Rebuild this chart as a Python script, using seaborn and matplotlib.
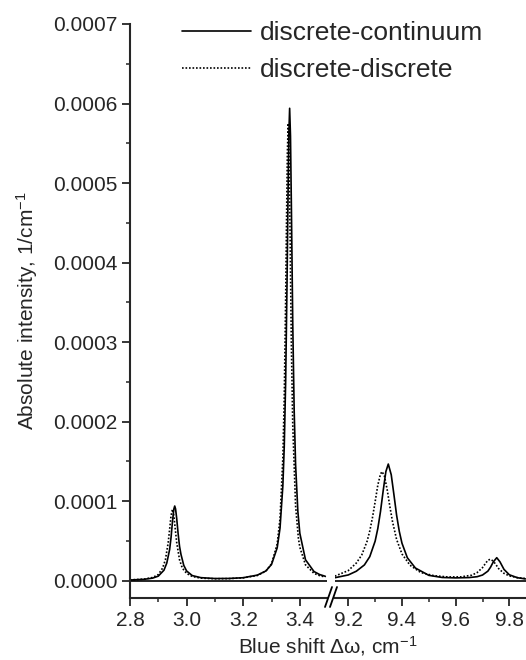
import numpy as np
import pandas as pd
import matplotlib
matplotlib.use('Agg')
import matplotlib.pyplot as plt
import seaborn as sns
from matplotlib.ticker import MultipleLocator, FormatStrFormatter
from matplotlib.lines import Line2D

# intensities in units of 1e-5 1/cm
SCALE = 1e-5

left_x_cont = [2.80, 2.85, 2.88, 2.90, 2.92, 2.93, 2.94, 2.945, 2.95, 2.955, 2.958, 2.961,
               2.965, 2.97, 2.975, 2.98, 2.99, 3.00, 3.02, 3.05, 3.10, 3.15, 3.20, 3.25,
               3.28, 3.30, 3.32, 3.33, 3.34, 3.345, 3.35, 3.355, 3.358, 3.361, 3.364, 3.367,
               3.370, 3.375, 3.380, 3.385, 3.393, 3.40, 3.42, 3.45, 3.47, 3.49]
left_y_cont = [0.06, 0.15, 0.30, 0.55, 1.30, 2.20, 3.90, 5.40, 7.40, 9.00, 9.37, 9.00,
               7.80, 5.90, 4.30, 3.30, 1.90, 1.20, 0.62, 0.36, 0.25, 0.26, 0.35, 0.68,
               1.20, 2.02, 4.11, 6.58, 11.9, 16.9, 25.2, 38.0, 47.5, 55.9, 59.4, 55.9,
               47.5, 32.3, 21.4, 14.6, 8.70, 5.94, 2.61, 1.13, 0.75, 0.53]

left_x_disc = [2.80, 2.85, 2.88, 2.90, 2.915, 2.925, 2.935, 2.94, 2.945, 2.95, 2.955, 2.96,
               2.965, 2.975, 2.985, 3.00, 3.02, 3.05, 3.10, 3.15, 3.20, 3.25, 3.28, 3.30,
               3.32, 3.33, 3.34, 3.345, 3.35, 3.353, 3.356, 3.359, 3.362, 3.365, 3.37, 3.375,
               3.385, 3.395, 3.40, 3.42, 3.45, 3.47, 3.49]
left_y_disc = [0.08, 0.18, 0.38, 0.75, 1.55, 2.60, 4.77, 6.44, 8.16, 8.96, 8.16, 6.44,
               4.77, 2.60, 1.55, 0.89, 0.51, 0.30, 0.22, 0.24, 0.34, 0.63, 1.19, 2.10,
               4.59, 7.80, 15.4, 23.1, 35.6, 45.2, 53.8, 57.5, 53.8, 45.2, 30.0, 19.6,
               9.40, 5.30, 4.19, 1.97, 0.90, 0.61, 0.44]

right_x_cont = [9.15, 9.20, 9.23, 9.26, 9.28, 9.30, 9.31, 9.32, 9.33, 9.34, 9.349, 9.36,
                9.37, 9.38, 9.39, 9.40, 9.42, 9.45, 9.50, 9.55, 9.60, 9.65, 9.68, 9.70,
                9.72, 9.73, 9.74, 9.753, 9.765, 9.78, 9.80, 9.83, 9.86]
right_y_cont = [0.35, 0.70, 1.17, 1.96, 3.00, 4.95, 6.54, 8.69, 11.3, 13.7, 14.65, 13.3,
                10.8, 8.21, 6.18, 4.69, 2.86, 1.57, 0.65, 0.38, 0.33, 0.37, 0.48, 0.69,
                1.18, 1.68, 2.33, 2.87, 2.35, 1.40, 0.72, 0.35, 0.20]

right_x_disc = [9.15, 9.20, 9.23, 9.25, 9.27, 9.28, 9.29, 9.30, 9.31, 9.32, 9.326, 9.335,
                9.345, 9.355, 9.365, 9.38, 9.40, 9.43, 9.47, 9.52, 9.57, 9.62, 9.66, 9.68,
                9.70, 9.71, 9.72, 9.729, 9.74, 9.75, 9.76, 9.78, 9.80, 9.83, 9.86]
right_y_disc = [0.55, 1.25, 2.20, 3.20, 4.93, 6.23, 7.90, 9.90, 12.0, 13.4, 13.7, 13.1,
                11.4, 9.28, 7.36, 5.16, 3.34, 1.92, 1.00, 0.60, 0.45, 0.46, 0.67, 1.00,
                1.62, 2.10, 2.55, 2.67, 2.45, 2.00, 1.50, 0.90, 0.58, 0.36, 0.25]

models = ['discrete-continuum', 'discrete-discrete']
left_ticks = [2.8, 3.0, 3.2, 3.4]
right_ticks = [9.2, 9.4, 9.6, 9.8]


def make_frame(xc, yc, xd, yd):
    a = pd.DataFrame({'x': xc, 'y': np.array(yc) * SCALE, 'model': models[0]})
    b = pd.DataFrame({'x': xd, 'y': np.array(yd) * SCALE, 'model': models[1]})
    return pd.concat([a, b], ignore_index=True)


df_left = make_frame(left_x_cont, left_y_cont, left_x_disc, left_y_disc)
df_right = make_frame(right_x_cont, right_y_cont, right_x_disc, right_y_disc)

sns.set_style('ticks')
plt.rcParams['font.family'] = ['Liberation Sans', 'DejaVu Sans']
plt.rcParams['mathtext.default'] = 'regular'

W, H = 526, 660
fig = plt.figure(figsize=(W / 100, H / 100), dpi=100)
bot = 1 - 598 / H
hgt = (598 - 24) / H
ax1 = fig.add_axes([130 / W, bot, (327 - 130) / W, hgt])
ax2 = fig.add_axes([335 / W, bot, (526 - 335) / W, hgt])

dashes = {models[0]: '', models[1]: (1, 1.1)}
for ax, d in [(ax1, df_left), (ax2, df_right)]:
    sns.lineplot(data=d, x='x', y='y', style='model', dashes=dashes, color='black',
                 linewidth=1.2, estimator=None, ax=ax, legend=(ax is ax1))
    ax.axhline(0, color='black', linewidth=1.2, zorder=1)
    ax.set_ylim(-0.000022, 0.0007)
    ax.set_xlabel('')
    ax.set_ylabel('')
    ax.spines['top'].set_visible(False)
    ax.spines['right'].set_visible(False)
    ax.spines['bottom'].set_linewidth(1.5)
    ax.xaxis.set_minor_locator(MultipleLocator(0.1))
    ax.xaxis.set_major_formatter(FormatStrFormatter('%.1f'))
    ax.tick_params(axis='both', which='major', direction='out', length=6, width=1.3,
                   labelsize=15, pad=3)
    ax.tick_params(axis='both', which='minor', direction='out', length=3, width=1.1)

ax1.set_xlim(2.8, 3.496)
ax1.set_xticks(left_ticks)
ax2.set_xlim(9.1505, 9.862)
ax2.set_xticks(right_ticks)

ax1.spines['left'].set_linewidth(1.5)
ax1.set_yticks(np.arange(0, 0.00071, 0.0001))
ax1.yaxis.set_minor_locator(MultipleLocator(0.00005))
ax1.yaxis.set_major_formatter(FormatStrFormatter('%.4f'))
ax1.set_ylabel('Absolute intensity, 1/cm$^{-1}$', fontsize=15, labelpad=9)

ax2.spines['left'].set_visible(False)
ax2.tick_params(axis='y', which='both', left=False, labelleft=False)

fig.text(328 / W, 1 - 646 / H, 'Blue shift \u0394\u03c9, cm$^{-1}$', fontsize=15,
         ha='center', va='center')

handles, labels = ax1.get_legend_handles_labels()
ax1.get_legend().remove()
fig.legend(handles, labels, loc='upper left', bbox_to_anchor=(182 / W, 1 - 21 / H),
           frameon=False, fontsize=19, handlelength=2.6, handletextpad=0.35,
           labelspacing=0.5, borderpad=0, borderaxespad=0)

# axis break marks
for x0 in (325, 330):
    fig.add_artist(Line2D([x0 / W, (x0 + 7) / W], [1 - 607 / H, 1 - 587 / H],
                          color='black', linewidth=1.3))

fig.savefig('out.png', dpi=100)
